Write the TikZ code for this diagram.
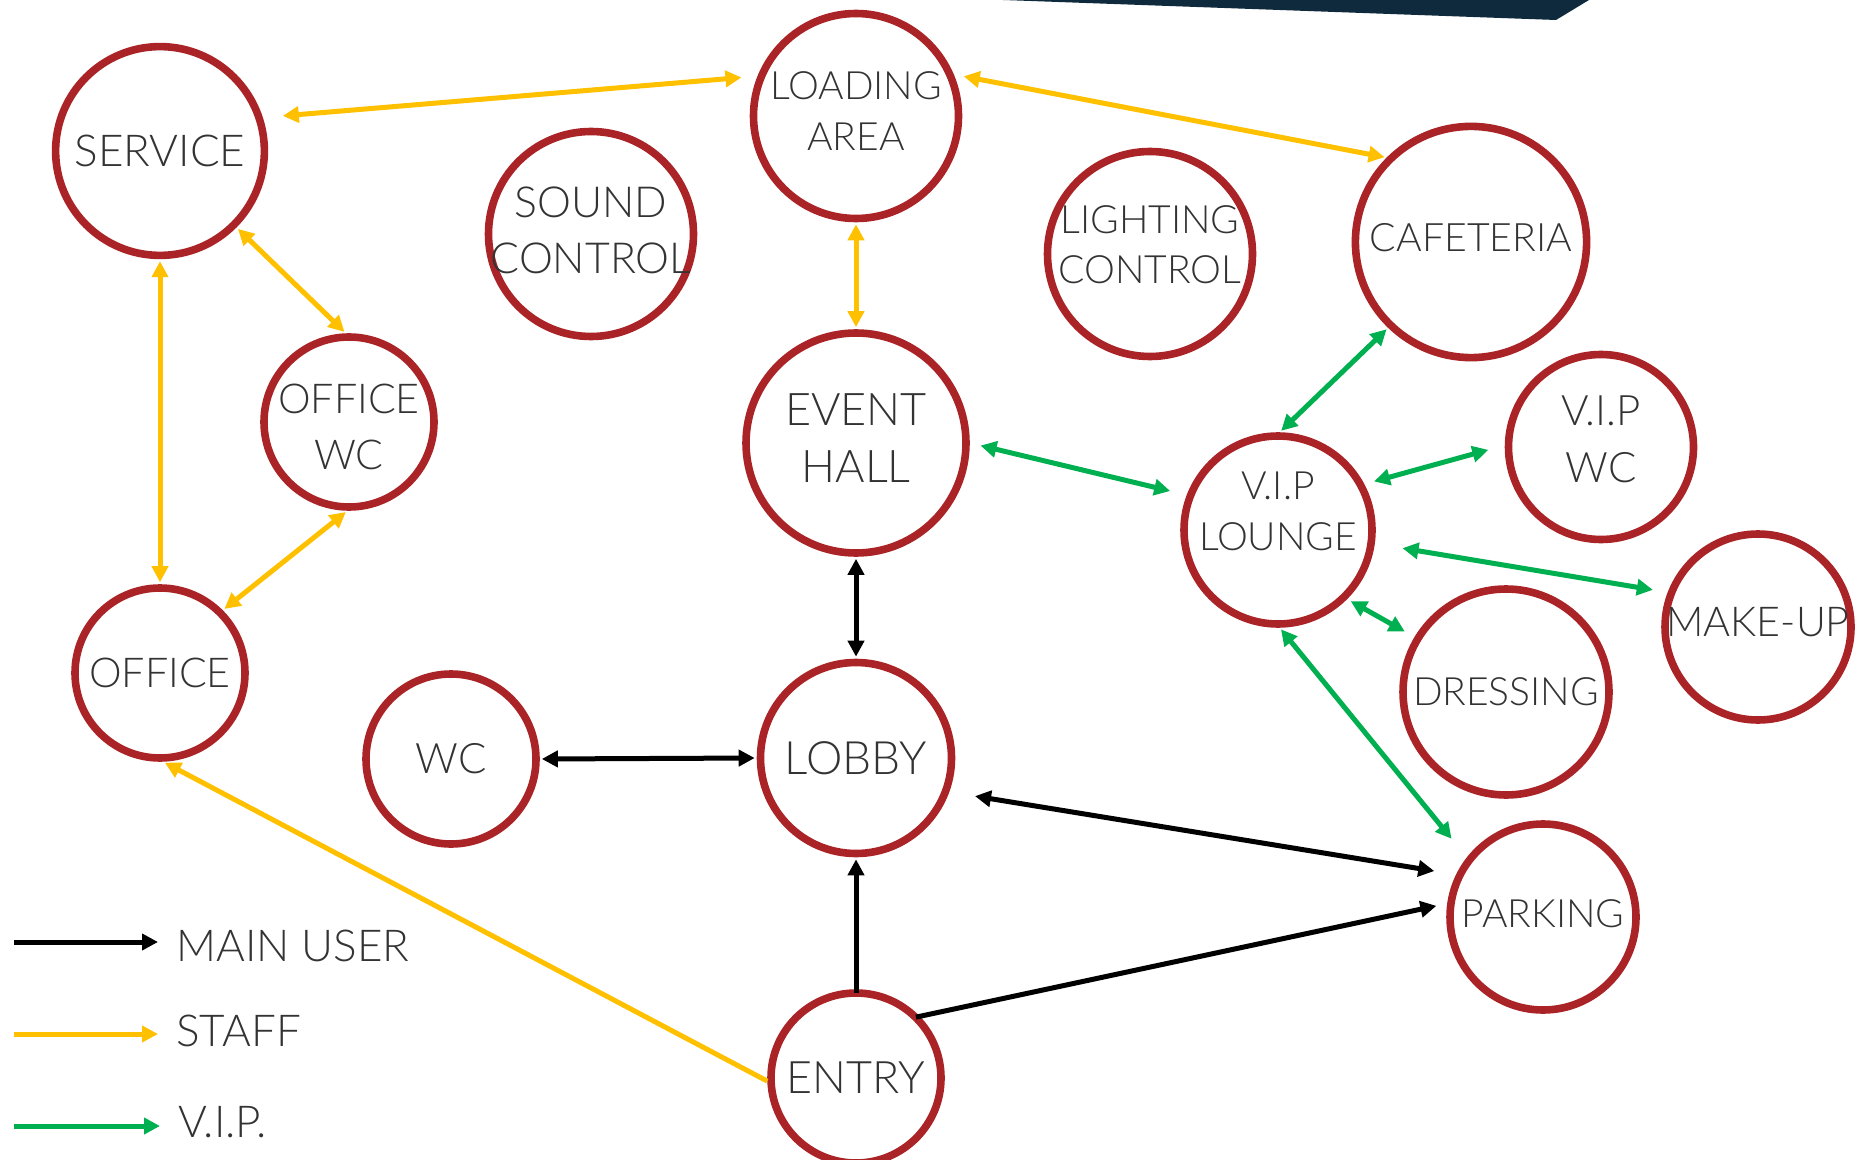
\documentclass[tikz,border=0pt]{standalone}
\usepackage{fontspec}
\setmainfont{Lato Light}
\usetikzlibrary{arrows.meta}
\definecolor{roomred}{RGB}{170,35,38}
\definecolor{staffyellow}{RGB}{255,192,0}
\definecolor{vipgreen}{RGB}{0,176,80}
\definecolor{roofblue}{RGB}{16,42,61}
\begin{document}
\begin{tikzpicture}[x=0.5pt,y=-0.5pt,>={Triangle[length=8pt,width=8pt]},%
  % common options for the rooms (the name sits in a label, so it never grows the circle):
  room/.style = {circle, draw=roomred, line width=3.8pt, inner sep=0, minimum size=#1},
  fs/.style 2 args = {font=\fontsize{#1}{#2}\selectfont},
  every label/.style = {align=center, inner sep=0, text=black!80},
  % common options for the links:
  main/.style = {draw=black, line width=2.5pt},
  staff/.style = {draw=staffyellow, line width=2.5pt},
  vip/.style = {draw=vipgreen, line width=2.5pt},
  key/.style = {anchor=west, inner sep=0, text=black!80, fs={22}{26}}]
\useasboundingbox (0,0) rectangle (1862,1160);
\fill[roofblue] (1003,0) -- (1589,0) -- (1556,20) -- cycle;
\node[room=104.4pt, label={[fs={22}{28}]center:SERVICE}] (service) at (160,151) {};
\node[room=102.5pt, label={[fs={19.5}{25.5},yshift=2.5pt]center:LOADING\\AREA}] (loading) at (856,116) {};
\node[room=102.5pt, label={[fs={21.4}{28},yshift=2pt]center:SOUND\\CONTROL}] (sound) at (591,234) {};
\node[room=102.5pt, label={[fs={19.5}{25},yshift=4.5pt]center:LIGHTING\\CONTROL}] (lighting) at (1150,254) {};
\node[room=115.6pt, label={[fs={19.6}{26},yshift=2pt]center:CAFETERIA}] (cafeteria) at (1471,242) {};
\node[room=85pt, label={[fs={20.6}{28},yshift=-2.4pt]center:OFFICE\\WC}] (officewc) at (349,422) {};
\node[room=110pt, label={[fs={22.5}{28.5},yshift=2.4pt]center:EVENT\\HALL}] (event) at (856,443) {};
\node[room=94pt, label={[fs={19.5}{25.5},yshift=9.5pt]center:V.I.P\\LOUNGE}] (lounge) at (1278,530) {};
\node[room=92.5pt, label={[fs={21}{28.5},yshift=4pt]center:V.I.P\\WC}] (vipwc) at (1601,447) {};
\node[room=93pt, label={[fs={20.6}{26},yshift=2.4pt]center:MAKE-UP}] (makeup) at (1758,627) {};
\node[room=103pt, label={[fs={19.5}{26}]center:DRESSING}] (dressing) at (1506,692) {};
\node[room=85pt, label={[fs={20.6}{26}]center:OFFICE}] (office) at (160,673) {};
\node[room=85pt, label={[fs={21}{26}]center:WC}] (wc) at (451,759) {};
\node[room=95.5pt, label={[fs={23}{28}]center:LOBBY}] (lobby) at (856,758) {};
\node[room=93pt, label={[fs={19.5}{26},yshift=1.5pt]center:PARKING}] (parking) at (1543,917) {};
\node[room=85pt, label={[fs={22.4}{28}]center:ENTRY}] (entry) at (856,1078) {};
% staff
\draw[staff,<->,shorten <=10pt,shorten >=8pt] (service.18) to (loading.158);
\draw[staff,<->,shorten <=5pt,shorten >=1pt] (loading.23) to (cafeteria.135);
\draw[staff,<->,shorten <=1pt,shorten >=1pt] (loading.-90) to (event.90);
\draw[staff,<->,shorten <=1pt,shorten >=1pt] (service.-45) to (officewc.92);
\draw[staff,<->,shorten <=1pt,shorten >=1pt] (service.-90) to (office.90);
\draw[staff,<->,shorten <=1pt,shorten >=1pt] (officewc.-91) to (office.45);
\draw[staff,->,shorten >=1pt] (entry.182) to (office.-88);
% main user
\draw[main,<->,shorten <=1pt,shorten >=1pt] (event.-90) to (lobby.90);
\draw[main,<->,shorten <=1pt,shorten >=1pt] (wc.0) to (lobby.180);
\draw[main,<->,shorten <=13pt,shorten >=11pt] (lobby.-20) to (parking.154);
\draw[main,->,shorten <=-2pt,shorten >=1pt] (entry.90) to (lobby.-90);
\draw[main,->,shorten <=-2pt,shorten >=5.5pt] (entry.44) to (parking.172);
% v.i.p.
\draw[vip,<->,shorten <=1pt,shorten >=1pt] (cafeteria.-134) to (lounge.89);
\draw[vip,<->,shorten <=5.5pt,shorten >=8.5pt] (event.0) to (lounge.159);
\draw[vip,<->,shorten <=5pt,shorten >=8.5pt] (lounge.28) to (vipwc.179);
\draw[vip,<->,shorten <=14pt,shorten >=7.5pt] (lounge.-8) to (makeup.159);
\draw[vip,<->,shorten <=2pt,shorten >=5.5pt] (lounge.-45) to (dressing.149);
\draw[vip,<->,shorten <=1pt,shorten >=12pt] (lounge.-89) to (parking.142);
% legend
\node[key] (mainkey) at (176,946) {MAIN USER};
\node[key] (staffkey) at (176,1031) {STAFF};
\node[key] (vipkey) at (178,1122) {V.I.P.};
\coordinate (mainfrom) at (14,942);
\coordinate (stafffrom) at (14,1034);
\coordinate (vipfrom) at (14,1126);
\draw[main,->,shorten >=9pt] (mainfrom) to (mainfrom -| mainkey.west);
\draw[staff,->,shorten >=9pt] (stafffrom) to (stafffrom -| staffkey.west);
\draw[vip,->,shorten >=9pt] (vipfrom) to (vipfrom -| vipkey.west);
\end{tikzpicture}
\end{document}
